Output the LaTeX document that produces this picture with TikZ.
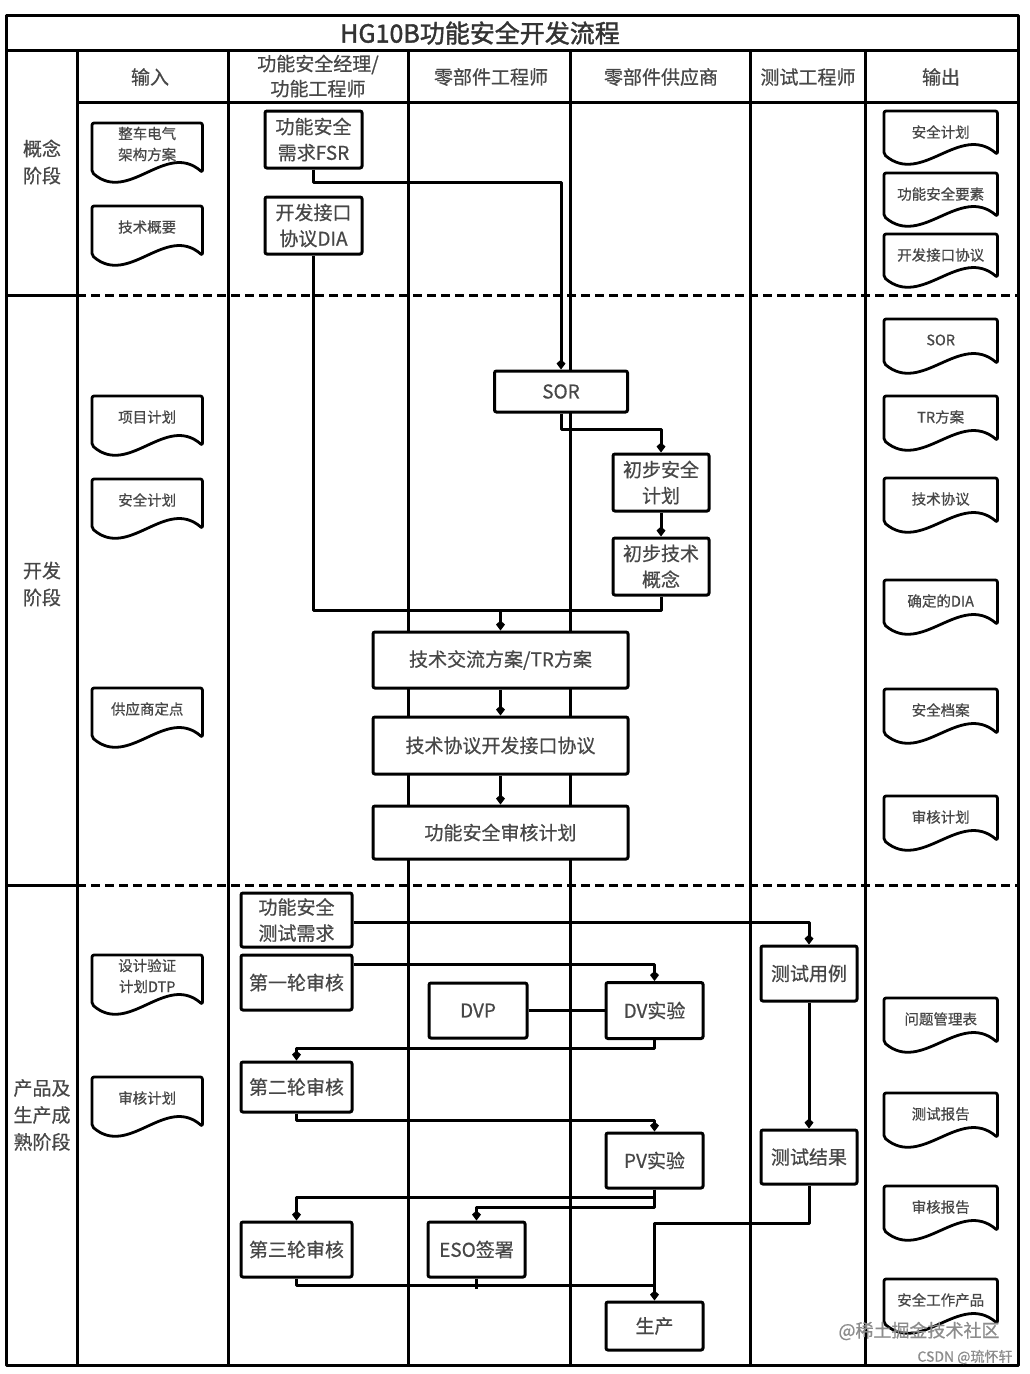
\documentclass[tikz,border=0pt]{standalone}
\usepackage{fontspec}
\setmainfont{Noto Sans CJK SC}[FakeBold=0.6]
\newfontfamily\titlefont{Noto Sans CJK SC}[FakeBold=1.6]
\usetikzlibrary{arrows.meta,calc}
\newcommand\docshape[6]{%
  \node[docnode, minimum width=#4pt, minimum height=#5pt, anchor=north west] (#1) at (#2,#3) {};
  \draw[docline] (#1.south east) .. controls +(-#4/3,-32) and +(#4/3,32) .. (#1.south west) -- (#1.north west) -- (#1.north east) -- cycle;
  \node[doctext] (#1-t) at ([yshift=-21pt]#1.north) {#6};
}
\begin{document}
\begin{tikzpicture}[x=1pt,y=-1pt,
  ln/.style={line width=3pt, line join=round},
  dashln/.style={line width=3pt, dash pattern=on 9pt off 5pt},
  arr/.style={line width=3pt, line join=round, -{Kite[length=10pt,width=9pt,inset=4pt]}},
  docnode/.style={draw=none, inner sep=0pt},
  doctext/.style={inner sep=0pt, text=black!72, font=\fontsize{14.5}{21}\selectfont, align=center},
  docline/.style={line width=2.8pt, line join=round, rounded corners=2pt, fill=white},
  box/.style={draw, fill=white, line width=3pt, rounded corners=2pt, inner sep=0pt, text=black!72, font=\fontsize{19}{26}\selectfont, align=center},
  hd/.style={text=black!72, font=\fontsize{19}{25}\selectfont, align=center, inner sep=0pt},
  wm/.style={text=black!45, inner sep=0pt}
]
\useasboundingbox (0,0) rectangle (1030,1374);
\fill[white] (0,0) rectangle (1030,1374);

% frame and grid
\draw[ln] (6,15) rectangle (1018,1365);
\draw[ln] (6,50) -- (1018,50);
\draw[ln] (77,102) -- (1018,102);
\foreach \x in {77,228,408,570,750,865} \draw[ln] (\x,50) -- (\x,1365);
\draw[ln] (6,295) -- (77,295);
\draw[dashln] (77,295) -- (1018,295);
\draw[ln] (6,885) -- (77,885);
\draw[dashln] (77,885) -- (1018,885);

% title and headers
\node[text=black!80, font=\titlefont\fontsize{25}{30}\selectfont, inner sep=0pt] (title) at (480,33) {HG10B功能安全开发流程};
\node[hd] (h1) at (150,77) {输入};
\node[hd] (h2) at (318,76) {功能安全经理/\\功能工程师};
\node[hd] (h3) at (491,77) {零部件工程师};
\node[hd] (h4) at (661,77) {零部件供应商};
\node[hd] (h5) at (808,77) {测试工程师};
\node[hd] (h6) at (941,77) {输出};

% stage labels
\node[hd, font=\fontsize{19}{27}\selectfont] (s1) at (42,162) {概念\\阶段};
\node[hd, font=\fontsize{19}{27}\selectfont] (s2) at (42,584) {开发\\阶段};
\node[hd, font=\fontsize{19}{27}\selectfont] (s3) at (42,1115) {产品及\\生产成\\熟阶段};

% input documents
\docshape{in1}{92}{123}{110}{49}{整车电气\\架构方案}
\docshape{in2}{92}{206}{110}{49}{技术概要}
\docshape{in3}{92}{396}{110}{49}{项目计划}
\docshape{in4}{92}{479}{110}{49}{安全计划}
\docshape{in5}{92}{688}{110}{49}{供应商定点}
\docshape{in6}{92}{955}{110}{49}{设计验证\\计划DTP}
\docshape{in7}{92}{1077}{110}{49}{审核计划}

% output documents
\docshape{o1}{884}{111}{113}{43}{安全计划}
\docshape{o2}{884}{173}{113}{43}{功能安全要素}
\docshape{o3}{884}{234}{113}{43}{开发接口协议}
\docshape{o4}{884}{319}{113}{44}{SOR}
\docshape{o5}{884}{396}{113}{44}{TR方案}
\docshape{o6}{884}{478}{113}{44}{技术协议}
\docshape{o7}{884}{580}{113}{44}{确定的DIA}
\docshape{o8}{884}{689}{113}{44}{安全档案}
\docshape{o9}{884}{796}{113}{44}{审核计划}
\docshape{o10}{884}{998}{113}{44}{问题管理表}
\docshape{o11}{884}{1093}{113}{44}{测试报告}
\docshape{o12}{884}{1186}{113}{44}{审核报告}
\docshape{o13}{884}{1279}{113}{44}{安全工作产品}

% concept stage boxes
\node[box, minimum width=97pt, minimum height=57pt] (fsr) at (313.5,139.5) {功能安全\\需求FSR};
\node[box, minimum width=97pt, minimum height=57pt] (dia) at (313.5,225.5) {开发接口\\协议DIA};

% development stage boxes
\node[box, minimum width=133pt, minimum height=41pt] (sor) at (561,391.5) {SOR};
\node[box, minimum width=96pt, minimum height=57pt] (psp) at (661,482.5) {初步安全\\计划};
\node[box, minimum width=96pt, minimum height=57pt] (ptc) at (661,566.5) {初步技术\\概念};
\node[box, minimum width=255pt, minimum height=56pt] (tr) at (500.5,660) {技术交流方案/TR方案};
\node[box, minimum width=255pt, minimum height=57pt] (ta) at (500.5,745.5) {技术协议开发接口协议};
\node[box, minimum width=255pt, minimum height=53pt] (fsa) at (500.5,832.5) {功能安全审核计划};

% production stage boxes
\node[box, minimum width=111pt, minimum height=54pt] (fstr) at (296.5,920) {功能安全\\测试需求};
\node[box, minimum width=111pt, minimum height=55pt] (r1) at (296.5,982.5) {第一轮审核};
\node[box, minimum width=111pt, minimum height=50pt] (r2) at (296.5,1087) {第二轮审核};
\node[box, minimum width=111pt, minimum height=55pt] (r3) at (296.5,1249.5) {第三轮审核};
\node[box, minimum width=98pt, minimum height=55pt] (dvp) at (478,1010.5) {DVP};
\node[box, minimum width=97pt, minimum height=56pt] (dv) at (654.5,1010.5) {DV实验};
\node[box, minimum width=97pt, minimum height=55pt] (pv) at (654.5,1160.5) {PV实验};
\node[box, minimum width=97pt, minimum height=55pt] (eso) at (476.5,1249.5) {ESO签署};
\node[box, minimum width=97pt, minimum height=48pt] (prod) at (654.5,1326) {生产};
\node[box, minimum width=96pt, minimum height=55pt] (tc) at (809,973.5) {测试用例};
\node[box, minimum width=96pt, minimum height=54pt] (tres) at (809,1157) {测试结果};

% connectors: concept / development
\coordinate (c1) at (561,182);
\draw[arr] (fsr.south) |- (c1) -- (sor.north);
\coordinate (c2) at (661,429);
\draw[arr] (sor.south) |- (c2) -- (psp.north);
\draw[arr] (psp.south) -- (ptc.north);
\coordinate (jn) at (500.5,610);
\draw[ln] (dia.south) |- (jn);
\draw[ln] (ptc.south) |- (jn);
\draw[arr] (jn) -- (tr.north);
\draw[arr] (tr.south) -- (ta.north);
\draw[arr] (ta.south) -- (fsa.north);

% connectors: production
\draw[arr] ([yshift=-2pt]fstr.east) -| (tc.north);
\draw[arr] ([yshift=-11pt]r1.north east) -| (dv.north);
\draw[ln] (dvp.east) -- (dv.west);
\draw[arr] (dv.south) -- ++(0,8) -| (r2.north);
\draw[arr] (r2.south) -- ++(0,7) -| (pv.north);
\draw[arr] (tc.south) -- (tres.north);
\draw[arr] (pv.south) -- ++(0,8) -| (r3.north);
\draw[arr] (pv.south) -- ++(0,18) -| (eso.north);
\draw[arr] (tres.south) -- ++(0,38) -| (prod.north);
\draw[ln] (r3.south) |- ([yshift=15pt]prod.north);
\draw[ln] (eso.south) -- ++(0,10);

% watermarks
\node[wm, font=\fontsize{18}{20}\selectfont] (wm1) at (919,1331) {@稀土掘金技术社区};
\node[wm, font=\fontsize{14}{16}\selectfont] (wm2) at (965,1357) {CSDN @琉怀轩};
\end{tikzpicture}
\end{document}
